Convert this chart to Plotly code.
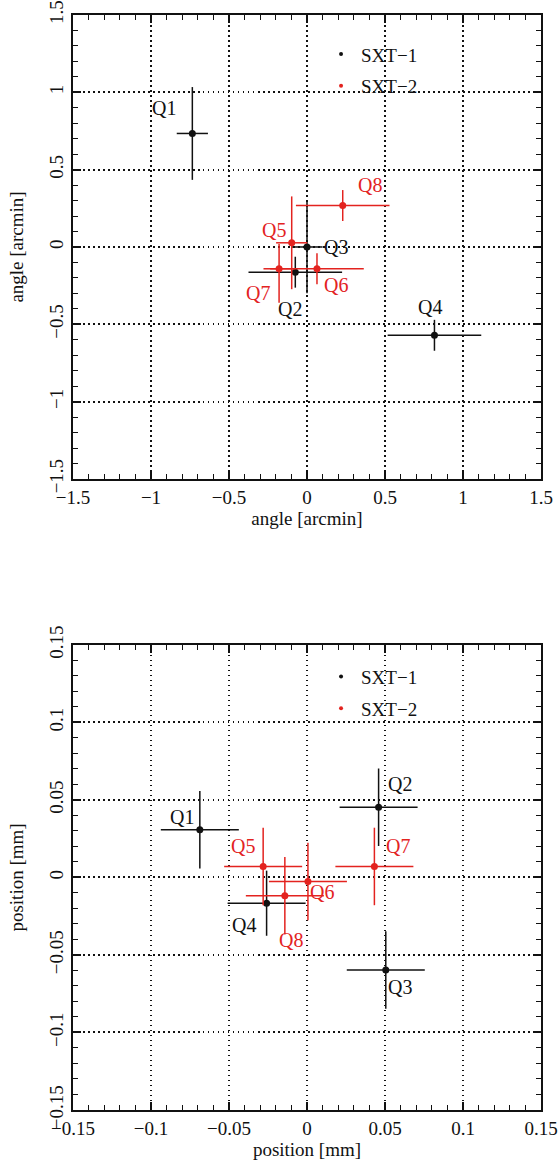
import plotly.graph_objects as go

# ---------------- data: angle plot (top) ----------------
ang_s1_names = ["Q1", "Q2", "Q3", "Q4"]
ang_s1_x = [-0.735, -0.075, 0.0, 0.817]
ang_s1_y = [0.734, -0.163, 0.0, -0.571]
ang_s1_xerr = [0.10, 0.30, 0.10, 0.30]
ang_s1_yerr = [0.30, 0.10, 0.30, 0.10]

ang_s2_names = ["Q5", "Q6", "Q7", "Q8"]
ang_s2_x = [-0.098, 0.064, -0.179, 0.229]
ang_s2_y = [0.027, -0.141, -0.141, 0.268]
ang_s2_xerr = [0.10, 0.30, 0.10, 0.30]
ang_s2_yerr_plus = [0.30, 0.10, 0.16, 0.10]
ang_s2_yerr_minus = [0.30, 0.10, 0.22, 0.10]

# ---------------- data: position plot (bottom) ----------------
pos_s1_names = ["Q1", "Q2", "Q3", "Q4"]
pos_s1_x = [-0.0687, 0.0459, 0.0505, -0.0259]
pos_s1_y = [0.0308, 0.0453, -0.0597, -0.0166]
pos_s1_xerr = [0.025, 0.025, 0.025, 0.025]
pos_s1_yerr = [0.025, 0.025, 0.025, 0.021]

pos_s2_names = ["Q5", "Q6", "Q7", "Q8"]
pos_s2_x = [-0.0281, 0.0006, 0.0432, -0.0142]
pos_s2_y = [0.0071, -0.0026, 0.0071, -0.0118]
pos_s2_xerr = [0.025, 0.025, 0.025, 0.025]
pos_s2_yerr = [0.025, 0.025, 0.025, 0.025]

series_names = ["SXT\u22121", "SXT\u22122"]
ang_ticks = [-1.5, -1, -0.5, 0, 0.5, 1, 1.5]
pos_ticks = [-0.15, -0.1, -0.05, 0, 0.05, 0.1, 0.15]
ang_title = "angle [arcmin]"
pos_title = "position [mm]"

# ---------------- styling ----------------
FONT = '"Liberation Serif", "Times New Roman", Times, serif'
BLACK = "#111111"
RED = "#e3231f"
colors = [BLACK, RED]

fig = go.Figure()


def add_series(x, y, xe, ye_p, ye_m, color, xa, ya):
    fig.add_trace(go.Scatter(
        x=x, y=y, mode="markers", xaxis=xa, yaxis=ya, showlegend=False,
        marker=dict(color=color, size=7),
        error_x=dict(type="data", array=xe, symmetric=True, color=color,
                     thickness=1.5, width=0),
        error_y=dict(type="data", array=ye_p, arrayminus=ye_m, symmetric=False,
                     color=color, thickness=1.5, width=0),
    ))


add_series(ang_s1_x, ang_s1_y, ang_s1_xerr, ang_s1_yerr, ang_s1_yerr, BLACK, "x", "y")
add_series(ang_s2_x, ang_s2_y, ang_s2_xerr, ang_s2_yerr_plus, ang_s2_yerr_minus, RED, "x", "y")
add_series(pos_s1_x, pos_s1_y, pos_s1_xerr, pos_s1_yerr, pos_s1_yerr, BLACK, "x2", "y2")
add_series(pos_s2_x, pos_s2_y, pos_s2_xerr, pos_s2_yerr, pos_s2_yerr, RED, "x2", "y2")

# legend-only traces
for lg, xa, ya in [("legend", "x", "y"), ("legend2", "x2", "y2")]:
    for i, nm in enumerate(series_names):
        fig.add_trace(go.Scatter(
            x=[None], y=[None], mode="markers", name=nm, xaxis=xa, yaxis=ya,
            legend=lg, legendgroup=lg + nm, showlegend=True,
            marker=dict(color=colors[i], size=4),
        ))

# labels (pixel offsets from each point)
ang_off = {"Q1": (-28, 25), "Q2": (-5, -37), "Q3": (29, 0), "Q4": (-4, 28),
           "Q5": (-18, 13), "Q6": (19, -16), "Q7": (-21, -24), "Q8": (27, 21)}
pos_off = {"Q1": (-18, 13), "Q2": (21, 23), "Q3": (14, -17), "Q4": (-23, -22),
           "Q5": (-20, 20), "Q6": (14, -10), "Q7": (24, 20), "Q8": (6, -44)}

annots = []


def add_labels(names, xs, ys, color, offs, xr, yr):
    for n, xv, yv in zip(names, xs, ys):
        dx, dy = offs[n]
        annots.append(dict(x=xv, y=yv, xref=xr, yref=yr, text=n, showarrow=False,
                           xshift=dx, yshift=dy, xanchor="center", yanchor="middle",
                           font=dict(family=FONT, size=20, color=color)))


add_labels(ang_s1_names, ang_s1_x, ang_s1_y, BLACK, ang_off, "x", "y")
add_labels(ang_s2_names, ang_s2_x, ang_s2_y, RED, ang_off, "x", "y")
add_labels(pos_s1_names, pos_s1_x, pos_s1_y, BLACK, pos_off, "x2", "y2")
add_labels(pos_s2_names, pos_s2_x, pos_s2_y, RED, pos_off, "x2", "y2")

axis_common = dict(
    showline=True, linecolor=BLACK, linewidth=2, mirror="ticks",
    ticks="inside", ticklen=8, tickwidth=1.5, tickcolor=BLACK,
    showgrid=True, gridcolor=BLACK, gridwidth=1.5, griddash="1.5px,3.5px",
    zeroline=False, automargin=False,
    tickfont=dict(family=FONT, size=19, color=BLACK),
    title_font=dict(family=FONT, size=19, color=BLACK),
)

fig.update_layout(
    width=558, height=1166,
    margin=dict(l=73, r=17, t=15, b=56),
    paper_bgcolor="white", plot_bgcolor="white",
    font=dict(family=FONT, size=19, color=BLACK),
    annotations=annots,
    xaxis=dict(axis_common, domain=[0, 1], range=[-1.5, 1.5], tickvals=ang_ticks,
               minor=dict(dtick=0.1, ticklen=5, tickwidth=1.2, tickcolor=BLACK, ticks="inside"),
               title=dict(text=ang_title, standoff=4), anchor="y"),
    yaxis=dict(axis_common, domain=[0.5763, 1], range=[-1.5, 1.5], tickvals=ang_ticks,
               tickangle=-90,
               minor=dict(dtick=0.1, ticklen=5, tickwidth=1.2, tickcolor=BLACK, ticks="inside"),
               title=dict(text=ang_title, standoff=18), anchor="x"),
    xaxis2=dict(axis_common, domain=[0, 1], range=[-0.15, 0.15], tickvals=pos_ticks,
                minor=dict(dtick=0.01, ticklen=5, tickwidth=1.2, tickcolor=BLACK, ticks="inside"),
                title=dict(text=pos_title, standoff=4), anchor="y2"),
    yaxis2=dict(axis_common, domain=[0, 0.4247], range=[-0.15, 0.15], tickvals=pos_ticks,
                tickangle=-90,
                minor=dict(dtick=0.01, ticklen=5, tickwidth=1.2, tickcolor=BLACK, ticks="inside"),
                title=dict(text=pos_title, standoff=18), anchor="x2"),
    legend=dict(x=0.53, y=0.9815, xanchor="left", yanchor="top", bgcolor="rgba(0,0,0,0)",
                font=dict(family=FONT, size=19), tracegroupgap=4, traceorder="grouped"),
    legend2=dict(x=0.53, y=0.413, xanchor="left", yanchor="top", bgcolor="rgba(0,0,0,0)",
                 font=dict(family=FONT, size=19), tracegroupgap=4, traceorder="grouped"),
)

fig.write_html(
    "out.html",
    config={"displayModeBar": False},
    post_script="document.body.style.margin='0px';document.body.style.overflow='hidden';",
)
